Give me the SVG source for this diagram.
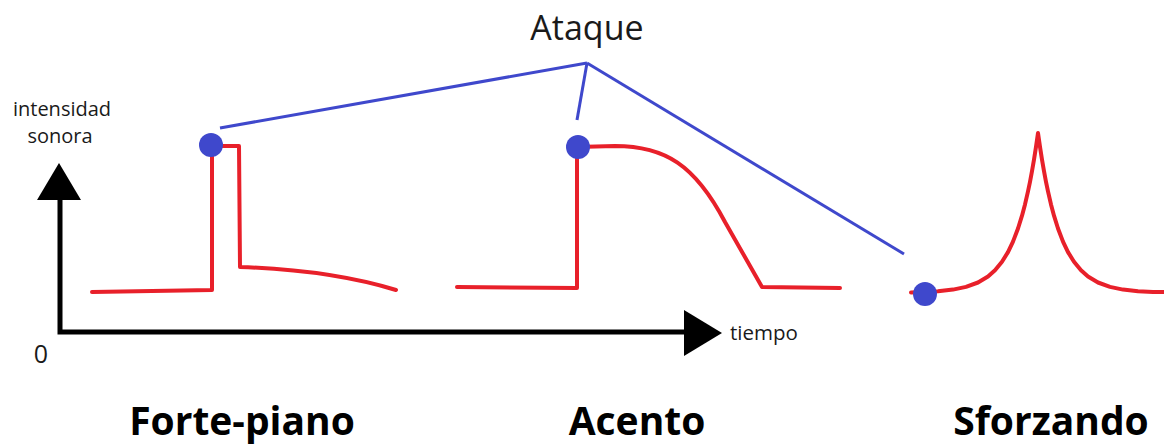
<svg xmlns="http://www.w3.org/2000/svg" width="1164" height="446" viewBox="0 0 1164 446">
<style>
.t{font-family:"Open Sans","Noto Sans","Liberation Sans",sans-serif;fill:#1a1a1a}
.b{font-family:"Open Sans","Noto Sans","Liberation Sans",sans-serif;font-weight:bold;fill:#000;font-size:39px;text-anchor:middle}
.red{fill:none;stroke:#e8202a;stroke-width:4;stroke-linejoin:round;stroke-linecap:round}
.blue{fill:none;stroke:#3f48cc;stroke-width:3;stroke-linecap:butt}
.dot{fill:#3f48cc}
.axis{stroke:#000;stroke-width:5;fill:none}
</style>
<rect width="1164" height="446" fill="#fff"/>
<g id="axes">
<polyline class="axis" points="60,196 60,332 690,332"/>
<polygon points="59,163 37,200 81,200" fill="#000"/>
<polygon points="722,333 684,310 684,356" fill="#000"/>
<text class="t" x="62" y="116" font-size="20" text-anchor="middle">intensidad</text>
<text class="t" x="60" y="143" font-size="20" text-anchor="middle">sonora</text>
<text class="t" x="41" y="363" font-size="25" text-anchor="middle">0</text>
<text class="t" x="764" y="340" font-size="20.5" text-anchor="middle">tiempo</text>
</g>
<g id="connectors">
<line class="blue" x1="587" y1="63" x2="220" y2="128"/>
<line class="blue" x1="587" y1="63" x2="577" y2="120"/>
<line class="blue" x1="587" y1="63" x2="904" y2="254" stroke-width="2.5"/>
</g>
<g id="ataque">
<text class="t" x="587" y="40" font-size="34" text-anchor="middle">Ataque</text>
</g>
<g id="forte-piano">
<path class="red" d="M92,292 L212,290 L212,146 L239,146 L240,267 Q330,270 396,290"/>
<circle class="dot" cx="211" cy="145" r="12"/>
<text class="b" x="242" y="435">Forte-piano</text>
</g>
<g id="acento">
<path class="red" d="M457,287 L577,288 L577,147 L615,146 C665,146 695,165 725,222 L762,287 L840,288"/>
<circle class="dot" cx="578" cy="147" r="12"/>
<text class="b" x="637" y="435">Acento</text>
</g>
<g id="sforzando">
<polyline class="red" points="911,292.5 923,292.1 938,291.3 953,289.6 966,286.9 978,282.5 988,276.5 995,270.3 1002,261.8 1008,252.1 1013,241.6 1018,228.5 1022,215.7 1025,204.4 1028,191.4 1030,181.8 1032,171.2 1034,159.6 1036,146.9 1038,133 1040,146.9 1042,159.6 1044,171.2 1046,181.8 1048,191.4 1051,204.4 1054,215.7 1058,228.5 1063,241.6 1068,252.1 1074,261.8 1081,270.3 1088,276.5 1098,282.5 1110,286.9 1123,289.6 1138,291.3 1153,291.9 1164,292"/>
<circle class="dot" cx="925" cy="294" r="12"/>
<text class="b" x="1051" y="435">Sforzando</text>
</g>
</svg>
